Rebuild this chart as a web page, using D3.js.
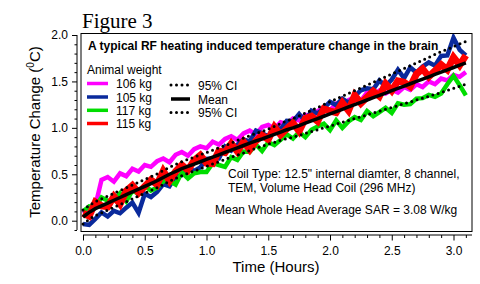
<!DOCTYPE html>
<html><head><meta charset="utf-8">
<script src="https://cdn.jsdelivr.net/npm/d3@7"></script>
<style>
html,body{margin:0;padding:0;background:#fff;}
svg{display:block;}
text{font-family:Arial,"Liberation Sans",sans-serif;fill:#000;}
</style></head>
<body>
<svg id="chart" width="480" height="284"></svg>
<script>
// ---- data (time in hours, temperature change in deg C) ----
const times = [0.00,0.05,0.10,0.15,0.20,0.25,0.30,0.35,0.40,0.45,0.50,0.55,0.60,0.65,0.70,0.75,0.80,0.85,0.90,0.95,1.00,1.05,1.10,1.15,1.20,1.25,1.30,1.35,1.40,1.45,1.50,1.55,1.60,1.65,1.70,1.75,1.80,1.85,1.90,1.95,2.00,2.05,2.10,2.15,2.20,2.25,2.30,2.35,2.40,2.45,2.50,2.55,2.60,2.65,2.70,2.75,2.80,2.85,2.90,2.95,3.00,3.05,3.10];
const series106 = [0.08,0.13,0.16,0.44,0.47,0.42,0.51,0.48,0.56,0.53,0.60,0.58,0.64,0.67,0.63,0.71,0.74,0.70,0.77,0.80,0.78,0.85,0.82,0.88,0.91,0.87,0.94,0.97,0.93,1.01,1.03,0.99,1.06,1.04,1.10,1.08,1.14,1.12,1.18,1.22,1.19,1.26,1.23,1.30,1.33,1.29,1.38,1.35,1.40,1.37,1.41,1.38,1.44,1.41,1.47,1.44,1.50,1.47,1.53,1.51,1.57,1.55,1.60];
const series105 = [-0.035,-0.045,0.02,0.09,0.045,0.105,0.08,0.14,0.195,0.085,0.29,0.255,0.31,0.395,0.37,0.475,0.49,0.57,0.535,0.575,0.665,0.67,0.67,0.80,0.755,0.82,0.875,0.855,0.97,0.94,0.91,1.015,0.985,1.075,1.07,1.15,1.07,1.185,1.155,1.21,1.28,1.245,1.315,1.27,1.34,1.405,1.425,1.415,1.51,1.45,1.52,1.625,1.535,1.65,1.595,1.66,1.705,1.67,1.775,1.78,1.97,1.84,1.78];
const series117 = [0.10,0.155,0.145,0.25,0.215,0.22,0.295,0.21,0.325,0.29,0.38,0.325,0.355,0.425,0.43,0.39,0.52,0.455,0.51,0.525,0.525,0.62,0.60,0.58,0.685,0.655,0.745,0.74,0.82,0.75,0.845,0.815,0.87,0.93,0.885,0.955,0.90,0.98,1.015,1.045,0.975,1.08,1.00,1.07,1.115,1.085,1.18,1.125,1.17,1.215,1.16,1.265,1.25,1.255,1.315,1.32,1.355,1.335,1.37,1.47,1.56,1.46,1.35];
const series115 = [0.08,0.05,0.20,0.16,0.15,0.26,0.18,0.32,0.38,0.30,0.37,0.44,0.39,0.535,0.43,0.53,0.60,0.545,0.65,0.705,0.62,0.615,0.75,0.735,0.83,0.745,0.85,0.765,0.86,0.92,0.875,1.01,0.925,0.99,1.05,0.965,1.10,1.125,1.07,1.205,1.18,1.165,1.27,1.185,1.35,1.265,1.33,1.395,1.34,1.475,1.40,1.505,1.49,1.445,1.58,1.635,1.55,1.615,1.68,1.625,1.76,1.675,1.78];
const meanValues = [0.04,0.09,0.13,0.16,0.19,0.22,0.25,0.28,0.31,0.34,0.37,0.40,0.43,0.465,0.50,0.53,0.56,0.585,0.61,0.635,0.66,0.685,0.71,0.735,0.76,0.785,0.81,0.835,0.86,0.88,0.905,0.93,0.955,0.98,1.00,1.025,1.05,1.075,1.10,1.125,1.15,1.175,1.20,1.225,1.25,1.275,1.30,1.325,1.35,1.375,1.40,1.425,1.45,1.475,1.50,1.525,1.55,1.575,1.60,1.625,1.65,1.675,1.70];
const upperCI = [0.115,0.165,0.205,0.235,0.265,0.295,0.325,0.355,0.385,0.415,0.445,0.475,0.505,0.54,0.575,0.605,0.635,0.66,0.685,0.71,0.735,0.76,0.785,0.81,0.835,0.865,0.89,0.915,0.94,0.96,0.985,1.015,1.045,1.075,1.10,1.13,1.16,1.19,1.22,1.25,1.28,1.31,1.34,1.37,1.40,1.43,1.46,1.49,1.52,1.55,1.58,1.61,1.64,1.67,1.70,1.73,1.76,1.79,1.82,1.847,1.875,1.903,1.93];
const lowerCI = [-0.035,0.015,0.055,0.085,0.115,0.145,0.175,0.205,0.235,0.265,0.295,0.325,0.355,0.39,0.425,0.455,0.485,0.51,0.535,0.56,0.585,0.61,0.635,0.66,0.685,0.705,0.73,0.755,0.78,0.80,0.825,0.845,0.865,0.885,0.90,0.92,0.94,0.96,0.98,1.00,1.02,1.04,1.06,1.08,1.10,1.12,1.14,1.16,1.18,1.20,1.22,1.24,1.26,1.28,1.30,1.32,1.34,1.36,1.38,1.403,1.425,1.447,1.47];
const animalLabels = ["106 kg","105 kg","117 kg","115 kg"];
const animalColors = ["#ff00ff","#0a2a9c","#00dd00","#ff0000"];
const xMajorTicks = [0,0.5,1,1.5,2,2.5,3];
const xMinorTicks = [0.1,0.2,0.3,0.4,0.6,0.7,0.8,0.9,1.1,1.2,1.3,1.4,1.6,1.7,1.8,1.9,2.1,2.2,2.3,2.4,2.6,2.7,2.8,2.9,3.1];
const yMajorTicks = [0,0.5,1,1.5,2];
const yMinorTicks = [-0.1,0.1,0.2,0.3,0.4,0.6,0.7,0.8,0.9,1.1,1.2,1.3,1.4,1.6,1.7,1.8,1.9];

const allSeries = [series106, series105, series117, series115];
const seriesWidths = [4.5, 4.5, 4.5, 7];

const svg = d3.select("#chart");
const x = d3.scaleLinear().domain([0, 3]).range([83, 453.5]);
const y = d3.scaleLinear().domain([0, 2]).range([220.7, 35]);
const frame = {x0: 81, x1: 472, y0: 33.5, y1: 231.5};

// Figure title
svg.append("text").attr("x", 82).attr("y", 28)
  .style("font-family", "'Times New Roman','Liberation Serif',serif")
  .style("font-size", "21px").text("Figure 3");

// clip
svg.append("clipPath").attr("id", "clip").append("rect")
  .attr("x", frame.x0).attr("y", frame.y0)
  .attr("width", frame.x1 - frame.x0).attr("height", frame.y1 - frame.y0);

const plot = svg.append("g").attr("clip-path", "url(#clip)");
const line = d3.line().x((d, i) => x(times[i])).y(d => y(d));

allSeries.forEach((s, k) => {
  plot.append("path").datum(s).attr("d", line)
    .attr("fill", "none").attr("stroke", animalColors[k])
    .attr("stroke-width", seriesWidths[k]).attr("stroke-linejoin", "miter");
});
[upperCI, lowerCI].forEach(s => {
  plot.append("path").datum(s).attr("d", line)
    .attr("fill", "none").attr("stroke", "#000").attr("stroke-width", 3)
    .attr("stroke-linecap", "round").attr("stroke-dasharray", "0 5.5");
});
plot.append("path").datum(meanValues).attr("d", line)
  .attr("fill", "none").attr("stroke", "#000").attr("stroke-width", 3.5);

// frame
svg.append("rect").attr("x", frame.x0).attr("y", frame.y0)
  .attr("width", frame.x1 - frame.x0).attr("height", frame.y1 - frame.y0)
  .attr("fill", "none").attr("stroke", "#000").attr("stroke-width", 1);

// Y axis (offset to the left of the frame)
const yAxisG = svg.append("g").attr("transform", "translate(77,0)");
yAxisG.call(d3.axisLeft(y).tickValues(yMajorTicks).tickFormat(d3.format(".1f")).tickSize(5).tickPadding(4))
  .call(g => g.select(".domain").remove());
yAxisG.selectAll(".tick text").style("font-size", "12px").style("font-family", "Arial,'Liberation Sans',sans-serif");
const yMinorG = svg.append("g").attr("transform", "translate(77,0)");
yMinorG.call(d3.axisLeft(y).tickValues(yMinorTicks).tickFormat("").tickSize(2.5))
  .call(g => g.select(".domain").remove());
svg.append("line").attr("x1", 77).attr("x2", 77).attr("y1", y(2)).attr("y2", y(-0.1)).attr("stroke", "#000");

// X axis (offset below frame)
const xAxisG = svg.append("g").attr("transform", "translate(0,235)");
xAxisG.call(d3.axisBottom(x).tickValues(xMajorTicks).tickFormat(d3.format(".1f")).tickSize(5.5).tickPadding(6))
  .call(g => g.select(".domain").remove());
xAxisG.selectAll(".tick text").style("font-size", "12px").style("font-family", "Arial,'Liberation Sans',sans-serif");
const xMinorG = svg.append("g").attr("transform", "translate(0,235)");
xMinorG.call(d3.axisBottom(x).tickValues(xMinorTicks).tickFormat("").tickSize(3))
  .call(g => g.select(".domain").remove());
svg.append("line").attr("x1", x(0)).attr("x2", frame.x1).attr("y1", 235).attr("y2", 235).attr("stroke", "#000");

// axis titles
svg.append("text").attr("x", 276).attr("y", 272).attr("text-anchor", "middle")
  .style("font-size", "15px").text("Time (Hours)");
const yt = svg.append("text").attr("transform", "translate(40,132) rotate(-90)")
  .attr("text-anchor", "middle").style("font-size", "15px");
yt.append("tspan").text("Temperature Change (");
yt.append("tspan").attr("dy", -6).style("font-size", "10px").text("0");
yt.append("tspan").attr("dy", 6).text("C)");

// inner title
svg.append("text").attr("x", 88).attr("y", 50).style("font-size", "12px")
  .style("font-weight", "bold").text("A typical RF heating induced temperature change in the brain");

// legend: animals
svg.append("text").attr("x", 87).attr("y", 74).style("font-size", "12px").text("Animal weight");
const rowY = [83.5, 97, 110.3, 123.5];
animalLabels.forEach((lab, k) => {
  svg.append("line").attr("x1", 87).attr("x2", 108).attr("y1", rowY[k]).attr("y2", rowY[k])
    .attr("stroke", animalColors[k]).attr("stroke-width", 3.5);
  svg.append("text").attr("x", 116).attr("y", rowY[k] + 4.5).style("font-size", "12px").text(lab);
});
// legend: statistics
const statRows = [{lab: "95% CI", dash: true, yy: 85}, {lab: "Mean", dash: false, yy: 99}, {lab: "95% CI", dash: true, yy: 112.5}];
statRows.forEach(r => {
  const l = svg.append("line").attr("x1", 171).attr("x2", 190).attr("y1", r.yy).attr("y2", r.yy)
    .attr("stroke", "#000");
  if (r.dash) l.attr("stroke-width", 3).attr("stroke-linecap", "round").attr("stroke-dasharray", "0 5.5");
  else l.attr("stroke-width", 3.5);
  svg.append("text").attr("x", 198).attr("y", r.yy + 4.5).style("font-size", "12px").text(r.lab);
});

// annotations
svg.append("text").attr("x", 228).attr("y", 178).style("font-size", "12px")
  .text("Coil Type: 12.5\" internal diamter, 8 channel,");
svg.append("text").attr("x", 228).attr("y", 192).style("font-size", "12px")
  .text("TEM, Volume Head Coil (296 MHz)");
svg.append("text").attr("x", 215).attr("y", 214).style("font-size", "12px")
  .text("Mean Whole Head Average SAR = 3.08 W/kg");
</script>
</body></html>
